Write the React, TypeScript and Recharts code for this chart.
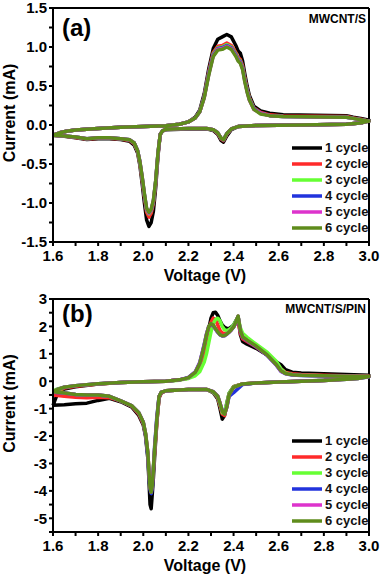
import React from 'react';
import { LineChart, Line, XAxis, YAxis, ReferenceLine, Legend } from 'recharts';

const cycleNames = ['1 cycle', '2 cycle', '3 cycle', '4 cycle', '5 cycle', '6 cycle'];
const cycleColors = ['#000000', '#ff2a2a', '#66ff33', '#2233dd', '#dd33cc', '#5f8c1c'];

const xTicks = [1.6, 1.7, 1.8, 1.9, 2.0, 2.1, 2.2, 2.3, 2.4, 2.5, 2.6, 2.7, 2.8, 2.9, 3.0];
const aYTicks = [-1.5, -1.25, -1, -0.75, -0.5, -0.25, 0, 0.25, 0.5, 0.75, 1, 1.25, 1.5];
const bYTicks = [-5.5, -5, -4.5, -4, -3.5, -3, -2.5, -2, -1.5, -1, -0.5, 0, 0.5, 1, 1.5, 2, 2.5, 3];

// ---------- Panel (a): MWCNT/S ----------
const aVoltage = [
  1.6, 1.63, 1.66, 1.7, 1.8, 1.9, 2.0, 2.1, 2.16, 2.2, 2.23, 2.25, 2.27, 2.29, 2.31, 2.33, 2.35, 2.37, 2.39, 2.41, 2.42, 2.43, 2.44, 2.45, 2.46, 2.47, 2.49, 2.52, 2.56, 2.62, 2.9, 2.93, 2.97, 3.0,
  2.97, 2.9, 2.7, 2.5, 2.42, 2.39, 2.37, 2.355, 2.345, 2.33, 2.31, 2.28, 2.2, 2.1, 2.085, 2.075, 2.065, 2.055, 2.045, 2.035, 2.025, 2.015, 2.005, 1.995, 1.985, 1.975, 1.96, 1.94, 1.9, 1.85, 1.8, 1.75, 1.7, 1.65, 1.6,
];
const aCycle1 = [
  -0.13, -0.10, -0.08, -0.065, -0.045, -0.03, -0.02, -0.01, 0.01, 0.04, 0.10, 0.19, 0.40, 0.72, 0.98, 1.10, 1.13, 1.16, 1.13, 1.02, 0.95, 0.92, 0.82, 0.65, 0.50, 0.38, 0.24, 0.18, 0.15, 0.13, 0.12, 0.10, 0.08, 0.06,
  0.03, 0.01, 0.0, -0.005, -0.02, -0.06, -0.14, -0.22, -0.20, -0.12, -0.07, -0.05, -0.05, -0.06, -0.08, -0.12, -0.40, -0.80, -1.10, -1.25, -1.30, -1.22, -1.00, -0.75, -0.52, -0.36, -0.26, -0.21, -0.185, -0.175, -0.175, -0.185, -0.165, -0.145, -0.13,
];
const aCycle2 = [
  -0.13, -0.10, -0.08, -0.065, -0.045, -0.03, -0.02, -0.01, 0.01, 0.04, 0.09, 0.17, 0.37, 0.68, 0.93, 1.01, 1.02, 1.05, 1.02, 0.93, 0.87, 0.84, 0.76, 0.60, 0.46, 0.35, 0.22, 0.16, 0.13, 0.115, 0.11, 0.09, 0.07, 0.05,
  0.03, 0.01, 0.0, -0.005, -0.02, -0.05, -0.12, -0.20, -0.18, -0.11, -0.06, -0.045, -0.045, -0.055, -0.075, -0.12, -0.38, -0.74, -1.0, -1.13, -1.18, -1.12, -0.92, -0.70, -0.49, -0.34, -0.24, -0.20, -0.18, -0.17, -0.17, -0.18, -0.16, -0.14, -0.13,
];
const aCycle3 = [
  -0.13, -0.10, -0.08, -0.065, -0.045, -0.03, -0.02, -0.01, 0.01, 0.04, 0.09, 0.17, 0.36, 0.66, 0.91, 0.99, 1.0, 1.03, 1.0, 0.91, 0.85, 0.82, 0.74, 0.58, 0.45, 0.34, 0.21, 0.15, 0.12, 0.11, 0.10, 0.085, 0.065, 0.05,
  0.03, 0.01, 0.0, -0.005, -0.02, -0.05, -0.11, -0.19, -0.17, -0.10, -0.06, -0.045, -0.045, -0.055, -0.075, -0.12, -0.37, -0.72, -0.98, -1.10, -1.14, -1.09, -0.90, -0.68, -0.48, -0.33, -0.23, -0.19, -0.175, -0.165, -0.165, -0.175, -0.155, -0.14, -0.13,
];
const aCycle4 = [
  -0.13, -0.10, -0.08, -0.065, -0.045, -0.03, -0.02, -0.01, 0.01, 0.04, 0.09, 0.17, 0.36, 0.66, 0.90, 0.98, 0.99, 1.02, 0.99, 0.90, 0.84, 0.81, 0.73, 0.57, 0.44, 0.33, 0.21, 0.15, 0.12, 0.11, 0.10, 0.085, 0.065, 0.05,
  0.03, 0.01, 0.0, -0.005, -0.02, -0.05, -0.11, -0.19, -0.17, -0.10, -0.06, -0.045, -0.045, -0.055, -0.075, -0.12, -0.37, -0.72, -0.97, -1.09, -1.13, -1.08, -0.89, -0.67, -0.47, -0.33, -0.23, -0.19, -0.175, -0.165, -0.165, -0.175, -0.155, -0.14, -0.13,
];
const aCycle5 = [
  -0.13, -0.10, -0.08, -0.065, -0.045, -0.03, -0.02, -0.01, 0.01, 0.04, 0.09, 0.17, 0.35, 0.65, 0.89, 0.97, 0.98, 1.01, 0.98, 0.89, 0.83, 0.80, 0.72, 0.56, 0.43, 0.32, 0.20, 0.15, 0.12, 0.11, 0.10, 0.085, 0.065, 0.05,
  0.03, 0.01, 0.0, -0.005, -0.02, -0.05, -0.11, -0.19, -0.17, -0.10, -0.06, -0.045, -0.045, -0.055, -0.075, -0.12, -0.37, -0.72, -0.97, -1.09, -1.13, -1.08, -0.89, -0.67, -0.47, -0.33, -0.23, -0.19, -0.175, -0.165, -0.165, -0.175, -0.155, -0.14, -0.13,
];
const aCycle6 = [
  -0.13, -0.10, -0.08, -0.065, -0.045, -0.03, -0.02, -0.01, 0.01, 0.04, 0.09, 0.17, 0.35, 0.64, 0.88, 0.96, 0.97, 1.0, 0.97, 0.88, 0.82, 0.79, 0.71, 0.55, 0.42, 0.32, 0.20, 0.14, 0.12, 0.11, 0.10, 0.085, 0.065, 0.05,
  0.03, 0.01, 0.0, -0.005, -0.02, -0.05, -0.11, -0.19, -0.17, -0.10, -0.06, -0.045, -0.045, -0.055, -0.075, -0.12, -0.36, -0.71, -0.96, -1.08, -1.12, -1.07, -0.88, -0.66, -0.47, -0.33, -0.23, -0.19, -0.175, -0.165, -0.165, -0.175, -0.155, -0.14, -0.13,
];

// ---------- Panel (b): MWCNT/S/PIN ----------
const bVoltage = [
  1.6, 1.62, 1.65, 1.7, 1.8, 1.9, 2.0, 2.1, 2.16, 2.2, 2.23, 2.25, 2.27, 2.28, 2.29, 2.3, 2.31, 2.32, 2.33, 2.34, 2.35, 2.36, 2.37, 2.38, 2.39, 2.4, 2.41, 2.42, 2.43, 2.44, 2.46, 2.5, 2.55, 2.59, 2.61, 2.63, 2.66, 2.7, 2.8, 2.9, 3.0,
  2.95, 2.9, 2.8, 2.7, 2.6, 2.5, 2.44, 2.4, 2.38, 2.37, 2.36, 2.35, 2.34, 2.33, 2.31, 2.28, 2.2, 2.1, 2.08, 2.07, 2.06, 2.05, 2.045, 2.04, 2.035, 2.03, 2.025, 2.02, 2.01, 2.0, 1.98, 1.95, 1.9, 1.85, 1.8, 1.75, 1.7, 1.65, 1.6,
];
const bCycle1 = [
  -0.88, -0.45, -0.28, -0.2, -0.1, -0.05, -0.02, 0.0, 0.05, 0.12, 0.28, 0.55, 1.1, 1.45, 1.9, 2.3, 2.5, 2.52, 2.4, 2.2, 2.05, 1.97, 1.92, 1.92, 1.98, 2.05, 2.2, 2.35, 1.7, 1.45, 1.35, 1.2, 0.95, 0.7, 0.6, 0.42, 0.33, 0.3, 0.27, 0.25, 0.22,
  0.15, 0.1, 0.04, 0.0, -0.03, -0.06, -0.1, -0.2, -0.45, -0.8, -1.25, -1.38, -1.0, -0.65, -0.42, -0.3, -0.3, -0.35, -0.42, -0.6, -1.5, -2.8, -3.5, -4.1, -4.65, -4.5, -3.6, -2.8, -2.0, -1.6, -1.25, -0.95, -0.75, -0.62, -0.7, -0.8, -0.82, -0.86, -0.88,
];
const bCycle2 = [
  -0.5, -0.36, -0.25, -0.18, -0.1, -0.05, -0.02, 0.0, 0.05, 0.12, 0.27, 0.5, 1.0, 1.35, 1.8, 2.15, 2.3, 2.25, 2.05, 1.85, 1.76, 1.74, 1.76, 1.8, 1.88, 1.98, 2.12, 2.2, 1.75, 1.55, 1.45, 1.25, 0.95, 0.65, 0.45, 0.32, 0.27, 0.25, 0.22, 0.2, 0.18,
  0.12, 0.08, 0.03, 0.0, -0.03, -0.06, -0.1, -0.2, -0.5, -0.9, -1.25, -1.2, -0.9, -0.6, -0.4, -0.3, -0.3, -0.35, -0.42, -0.6, -1.5, -2.6, -3.2, -3.7, -3.95, -3.8, -3.3, -2.6, -1.95, -1.55, -1.2, -0.92, -0.72, -0.6, -0.58, -0.6, -0.58, -0.55, -0.5,
];
const bCycle3 = [
  -0.35, -0.28, -0.22, -0.16, -0.09, -0.05, -0.02, 0.0, 0.04, 0.1, 0.2, 0.35, 0.7, 1.0, 1.4, 1.8, 2.1, 2.25, 2.3, 2.2, 2.0, 1.88, 1.85, 1.88, 1.95, 2.05, 2.2, 2.35, 1.95, 1.75, 1.6, 1.35, 1.05, 0.72, 0.45, 0.3, 0.25, 0.22, 0.2, 0.18, 0.17,
  0.1, 0.07, 0.03, 0.0, -0.03, -0.06, -0.1, -0.2, -0.45, -0.8, -1.1, -1.15, -0.85, -0.58, -0.4, -0.3, -0.3, -0.35, -0.4, -0.55, -1.4, -2.5, -3.1, -3.6, -3.95, -3.85, -3.3, -2.6, -1.9, -1.5, -1.15, -0.9, -0.72, -0.55, -0.5, -0.5, -0.48, -0.42, -0.35,
];
const bCycle4 = [
  -0.4, -0.3, -0.22, -0.16, -0.09, -0.05, -0.02, 0.0, 0.05, 0.14, 0.34, 0.68, 1.35, 1.72, 2.0, 2.08, 2.02, 1.9, 1.78, 1.69, 1.65, 1.66, 1.71, 1.79, 1.87, 1.97, 2.13, 2.36, 1.83, 1.6, 1.48, 1.26, 0.93, 0.58, 0.36, 0.27, 0.23, 0.21, 0.19, 0.17, 0.16,
  0.1, 0.07, 0.03, 0.0, -0.03, -0.06, -0.12, -0.42, -0.55, -0.95, -1.18, -1.08, -0.8, -0.55, -0.38, -0.3, -0.3, -0.35, -0.4, -0.55, -1.3, -2.4, -3.2, -3.9, -4.1, -3.95, -3.4, -2.7, -1.95, -1.5, -1.15, -0.9, -0.72, -0.55, -0.5, -0.5, -0.48, -0.43, -0.4,
];
const bCycle5 = [
  -0.39, -0.3, -0.22, -0.16, -0.09, -0.05, -0.02, 0.0, 0.05, 0.13, 0.33, 0.66, 1.32, 1.71, 2.0, 2.09, 2.04, 1.91, 1.79, 1.7, 1.66, 1.67, 1.72, 1.8, 1.88, 1.98, 2.14, 2.37, 1.84, 1.61, 1.49, 1.27, 0.94, 0.59, 0.37, 0.28, 0.24, 0.22, 0.2, 0.18, 0.17,
  0.1, 0.07, 0.03, 0.0, -0.03, -0.06, -0.1, -0.22, -0.5, -0.95, -1.19, -1.1, -0.8, -0.55, -0.38, -0.3, -0.3, -0.35, -0.4, -0.55, -1.4, -2.5, -3.2, -3.8, -4.05, -3.9, -3.3, -2.6, -1.9, -1.5, -1.15, -0.9, -0.72, -0.55, -0.5, -0.5, -0.48, -0.43, -0.39,
];
const bCycle6 = [
  -0.38, -0.3, -0.22, -0.16, -0.09, -0.05, -0.02, 0.0, 0.05, 0.13, 0.32, 0.65, 1.3, 1.7, 2.0, 2.1, 2.05, 1.92, 1.8, 1.7, 1.66, 1.67, 1.72, 1.8, 1.88, 1.98, 2.15, 2.38, 1.85, 1.62, 1.5, 1.28, 0.95, 0.6, 0.38, 0.28, 0.24, 0.22, 0.2, 0.18, 0.17,
  0.1, 0.07, 0.03, 0.0, -0.03, -0.06, -0.1, -0.22, -0.5, -0.95, -1.2, -1.1, -0.8, -0.55, -0.38, -0.3, -0.3, -0.35, -0.4, -0.55, -1.4, -2.5, -3.2, -3.8, -4.05, -3.9, -3.3, -2.6, -1.9, -1.5, -1.15, -0.9, -0.72, -0.55, -0.5, -0.5, -0.48, -0.43, -0.38,
];

const aCycles = [aCycle1, aCycle2, aCycle3, aCycle4, aCycle5, aCycle6];
const bCycles = [bCycle1, bCycle2, bCycle3, bCycle4, bCycle5, bCycle6];

const FONT = '"Liberation Sans", Arial, Helvetica, sans-serif';
const axisStyle = { stroke: '#000', strokeWidth: 2 };

const XTick = (props: any) => {
  const { x, y, payload } = props;
  const v = payload.value as number;
  const major = Math.round(v * 10) % 2 === 0;
  return (
    <g>
      <line x1={x} y1={y} x2={x} y2={y + 4} stroke="#000" strokeWidth={2} />
      {major && (
        <text x={x} y={y + 19} textAnchor="middle" fontFamily={FONT} fontWeight="bold" fontSize={15} fill="#000">
          {v.toFixed(1)}
        </text>
      )}
    </g>
  );
};

const makeYTick = (majorStep: number, decimals: number) => (props: any) => {
  const { x, y, payload } = props;
  const v = payload.value as number;
  const r = v / majorStep;
  const major = Math.abs(r - Math.round(r)) < 1e-6;
  return (
    <g>
      <line x1={x} y1={y} x2={x - 4} y2={y} stroke="#000" strokeWidth={2} />
      {major && (
        <text x={x - 6} y={y} dy="0.36em" textAnchor="end" fontFamily={FONT} fontWeight="bold" fontSize={15} fill="#000">
          {v.toFixed(decimals)}
        </text>
      )}
    </g>
  );
};

const XLabel = (p: any) => {
  const vb = p.viewBox || { x: 53, y: 242, width: 316, height: 40 };
  const cx = vb.x + vb.width / 2 - 6;
  return (
    <text x={cx} y={vb.y + 39} textAnchor="middle" fontFamily={FONT} fontWeight="bold" fontSize={16} fill="#000">
      Voltage (V)
    </text>
  );
};

const YLabel = (p: any) => {
  const vb = p.viewBox || { x: 8, y: 8, width: 45, height: 234 };
  const cx = vb.x + 1;
  const cy = vb.y + vb.height / 2 - 12;
  return (
    <text x={cx} y={cy} transform={`rotate(-90 ${cx} ${cy})`} textAnchor="middle" dominantBaseline="central" fontFamily={FONT} fontWeight="bold" fontSize={16} fill="#000">
      Current (mA)
    </text>
  );
};

const LegendBox = () => (
  <div style={{ display: 'flex', flexDirection: 'column' }}>
    {cycleNames.map((n, k) => (
      <div key={n} style={{ display: 'flex', alignItems: 'center', height: 16 }}>
        <svg width={32} height={16} style={{ display: 'block' }}>
          <line x1={0} y1={8} x2={30} y2={8} stroke={cycleColors[k]} strokeWidth={3.5} />
        </svg>
        <span style={{ fontFamily: FONT, fontWeight: 'bold', fontSize: 13, color: '#111', lineHeight: '16px', marginLeft: 1 }}>{n}</span>
      </div>
    ))}
  </div>
);

type PanelProps = {
  voltage: number[];
  cycles: number[][];
  yDomain: [number, number];
  yTicks: number[];
  majorStep: number;
  decimals: number;
  margin: { top: number; right: number; bottom: number; left: number };
  legendTop: number;
};

const Panel = ({ voltage, cycles, yDomain, yTicks, majorStep, decimals, margin, legendTop }: PanelProps) => {
  const yTick = makeYTick(majorStep, decimals);
  return (
    <LineChart width={382} height={289} margin={margin}>
      <XAxis
        type="number"
        dataKey="v"
        domain={[1.6, 3.0]}
        ticks={xTicks}
        interval={0}
        tickSize={0}
        tickMargin={0}
        tickLine={false}
        axisLine={axisStyle}
        tick={(p: any) => <XTick {...p} />}
        height={40}
        label={{ content: XLabel }}
      />
      <YAxis
        type="number"
        domain={yDomain}
        ticks={yTicks}
        interval={0}
        tickSize={0}
        tickMargin={0}
        tickLine={false}
        axisLine={axisStyle}
        tick={(p: any) => yTick(p)}
        width={45}
        label={{ content: YLabel }}
      />
      <ReferenceLine y={yDomain[1]} stroke="#000" strokeWidth={2} />
      <ReferenceLine x={3.0} stroke="#000" strokeWidth={2} />
      {cycles.map((c, k) => (
        <Line
          key={cycleNames[k]}
          name={cycleNames[k]}
          data={voltage.map((v, j) => ({ v, i: c[j] }))}
          dataKey="i"
          type="linear"
          stroke={cycleColors[k]}
          strokeWidth={3.5}
          strokeLinejoin="round"
          dot={false}
          activeDot={false}
          isAnimationActive={false}
        />
      ))}
      <Legend
        layout="vertical"
        align="center"
        verticalAlign="middle"
        wrapperStyle={{ left: 292, top: legendTop, width: 82, height: 96 }}
        content={() => <LegendBox />}
      />
    </LineChart>
  );
};

export default function App() {
  return (
    <div style={{ position: 'absolute', left: 0, top: 0, width: 382, height: 578, background: '#fff' }}>
      <div style={{ position: 'absolute', left: 0, top: 0 }}>
        <Panel
          voltage={aVoltage}
          cycles={aCycles}
          yDomain={[-1.5, 1.5]}
          yTicks={aYTicks}
          majorStep={0.5}
          decimals={1}
          margin={{ top: 8, right: 13, bottom: 7, left: 8 }}
          legendTop={140}
        />
      </div>
      <div style={{ position: 'absolute', left: 0, top: 289 }}>
        <Panel
          voltage={bVoltage}
          cycles={bCycles}
          yDomain={[-5.5, 3]}
          yTicks={bYTicks}
          majorStep={1}
          decimals={0}
          margin={{ top: 10, right: 13, bottom: 6, left: 8 }}
          legendTop={144}
        />
      </div>
      <svg width={382} height={578} style={{ position: 'absolute', left: 0, top: 0, pointerEvents: 'none' }}>
        <text x={62} y={36} fontFamily={FONT} fontWeight="bold" fontSize={24} fill="#000">(a)</text>
        <text x={366} y={23} textAnchor="end" fontFamily={FONT} fontWeight="bold" fontSize={12} fill="#000">MWCNT/S</text>
        <text x={62} y={322} fontFamily={FONT} fontWeight="bold" fontSize={24} fill="#000">(b)</text>
        <text x={366} y={313} textAnchor="end" fontFamily={FONT} fontWeight="bold" fontSize={12} fill="#000">MWCNT/S/PIN</text>
      </svg>
    </div>
  );
}
